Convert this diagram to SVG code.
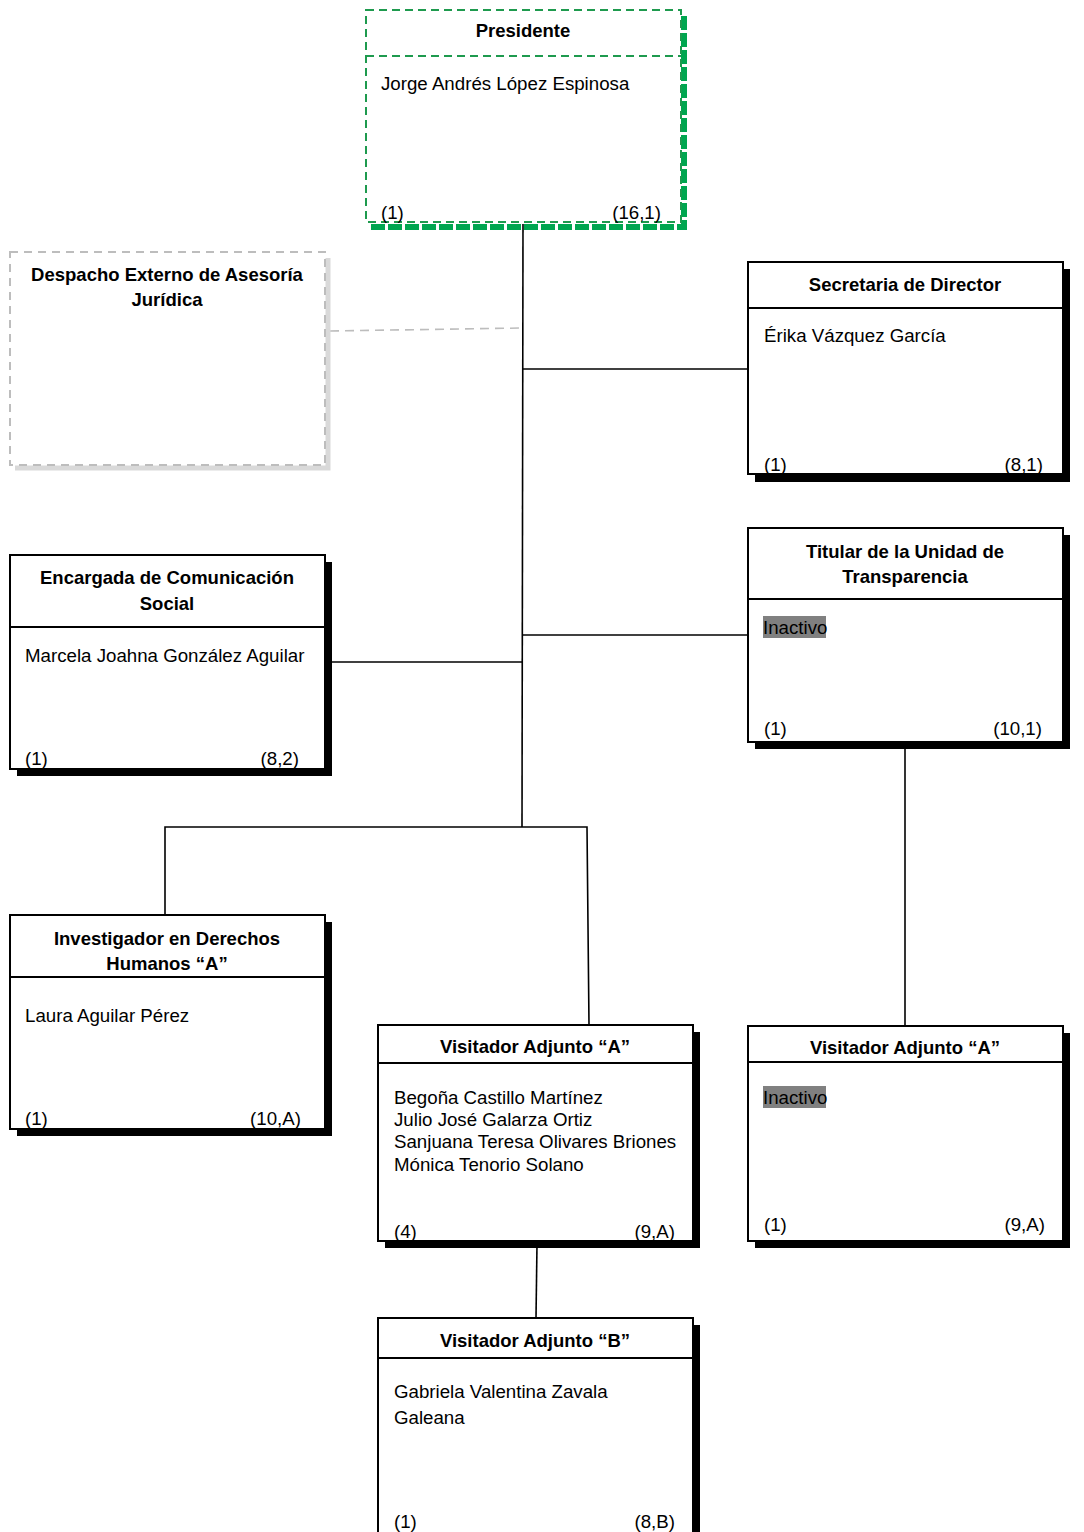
<svg xmlns="http://www.w3.org/2000/svg" width="1084" height="1532" viewBox="0 0 1084 1532">
<style>
  .t{font-family:"Liberation Sans",Arial,sans-serif;font-size:18.5px;font-weight:bold;fill:#000;text-anchor:middle}
  .b{font-family:"Liberation Sans",Arial,sans-serif;font-size:18.7px;fill:#000}
  .r{text-anchor:end}
  .box{fill:#fff;stroke:#000;stroke-width:2}
  .sh{fill:#000}
  .div{stroke:#000;stroke-width:2}
  .ln{stroke:#000;stroke-width:1.6;fill:none}
  .hl{fill:#808080}
</style>
<rect width="1084" height="1532" fill="#fff"/>
<g id="connectors">
  <line class="ln" x1="523" y1="224" x2="522" y2="827"/>
  <line class="ln" x1="522" y1="369" x2="750" y2="369"/>
  <line class="ln" x1="522" y1="635" x2="750" y2="635"/>
  <line class="ln" x1="330" y1="662" x2="522" y2="662"/>
  <line x1="330" y1="331" x2="522" y2="328" stroke="#bdbdbd" stroke-width="1.6" stroke-dasharray="9,6"/>
  <polyline class="ln" points="165,915 165,827 587,827 589,1025"/>
  <line class="ln" x1="905" y1="745" x2="905" y2="1026"/>
  <line class="ln" x1="537" y1="1244" x2="536" y2="1318"/>
</g>
<g id="presidente">
  <path d="M684 16 V227 H371" fill="none" stroke="#00a650" stroke-width="6" stroke-dasharray="14,3"/>
  <rect x="366" y="10" width="315" height="212" fill="#fff" stroke="#1e9a4e" stroke-width="2" stroke-dasharray="8,5"/>
  <line x1="366" y1="56" x2="681" y2="56" stroke="#1e9a4e" stroke-width="2" stroke-dasharray="8,5"/>
  <text class="t" x="523" y="37">Presidente</text>
  <text class="b" x="381" y="90">Jorge Andrés López Espinosa</text>
  <text class="b" x="381" y="219">(1)</text>
  <text class="b r" x="661" y="219">(16,1)</text>
</g>
<g id="despacho">
  <path d="M328 258 V468 H15" fill="none" stroke="#d9d9d9" stroke-width="5"/>
  <rect x="10" y="252" width="315" height="213" fill="#fff" stroke="#bdbdbd" stroke-width="2" stroke-dasharray="8,6"/>
  <text class="t" x="167" y="281">Despacho Externo de Asesoría</text>
  <text class="t" x="167" y="306">Jurídica</text>
</g>
<g id="secretaria">
  <rect class="sh" x="755" y="269" width="315" height="213"/>
  <rect class="box" x="748" y="262" width="315" height="212"/>
  <line class="div" x1="748" y1="308" x2="1063" y2="308"/>
  <text class="t" x="905" y="291">Secretaria de Director</text>
  <text class="b" x="764" y="342">Érika Vázquez García</text>
  <text class="b" x="764" y="471">(1)</text>
  <text class="b r" x="1043" y="471">(8,1)</text>
</g>
<g id="titular">
  <rect class="sh" x="755" y="535" width="315" height="214"/>
  <rect class="box" x="748" y="528" width="315" height="214"/>
  <line class="div" x1="748" y1="599" x2="1063" y2="599"/>
  <text class="t" x="905" y="558">Titular de la Unidad de</text>
  <text class="t" x="905" y="583">Transparencia</text>
  <rect class="hl" x="763" y="616" width="63" height="22"/>
  <text class="b" x="763" y="634">Inactivo</text>
  <text class="b" x="764" y="735">(1)</text>
  <text class="b r" x="1042" y="735">(10,1)</text>
</g>
<g id="encargada">
  <rect class="sh" x="17" y="562" width="315" height="214"/>
  <rect class="box" x="10" y="555" width="315" height="214"/>
  <line class="div" x1="10" y1="627" x2="325" y2="627"/>
  <text class="t" x="167" y="584">Encargada de Comunicación</text>
  <text class="t" x="167" y="610">Social</text>
  <text class="b" x="25" y="662">Marcela Joahna González Aguilar</text>
  <text class="b" x="25" y="765">(1)</text>
  <text class="b r" x="299" y="765">(8,2)</text>
</g>
<g id="investigador">
  <rect class="sh" x="17" y="922" width="315" height="214"/>
  <rect class="box" x="10" y="915" width="315" height="214"/>
  <line class="div" x1="10" y1="977" x2="325" y2="977"/>
  <text class="t" x="167" y="945">Investigador en Derechos</text>
  <text class="t" x="167" y="970">Humanos “A”</text>
  <text class="b" x="25" y="1022">Laura Aguilar Pérez</text>
  <text class="b" x="25" y="1125">(1)</text>
  <text class="b r" x="301" y="1125">(10,A)</text>
</g>
<g id="visitadorA1">
  <rect class="sh" x="385" y="1032" width="315" height="216"/>
  <rect class="box" x="378" y="1025" width="315" height="216"/>
  <line class="div" x1="378" y1="1063" x2="693" y2="1063"/>
  <text class="t" x="535" y="1053">Visitador Adjunto “A”</text>
  <text class="b" x="394" y="1104">Begoña Castillo Martínez</text>
  <text class="b" x="394" y="1126">Julio José Galarza Ortiz</text>
  <text class="b" x="394" y="1148">Sanjuana Teresa Olivares Briones</text>
  <text class="b" x="394" y="1171">Mónica Tenorio Solano</text>
  <text class="b" x="394" y="1238">(4)</text>
  <text class="b r" x="675" y="1238">(9,A)</text>
</g>
<g id="visitadorA2">
  <rect class="sh" x="755" y="1033" width="315" height="215"/>
  <rect class="box" x="748" y="1026" width="315" height="215"/>
  <line class="div" x1="748" y1="1062" x2="1063" y2="1062"/>
  <text class="t" x="905" y="1054">Visitador Adjunto “A”</text>
  <rect class="hl" x="763" y="1086" width="63" height="22"/>
  <text class="b" x="763" y="1104">Inactivo</text>
  <text class="b" x="764" y="1231">(1)</text>
  <text class="b r" x="1045" y="1231">(9,A)</text>
</g>
<g id="visitadorB">
  <rect class="sh" x="385" y="1325" width="315" height="220"/>
  <rect class="box" x="378" y="1318" width="315" height="220"/>
  <line class="div" x1="378" y1="1358" x2="693" y2="1358"/>
  <text class="t" x="535" y="1347">Visitador Adjunto “B”</text>
  <text class="b" x="394" y="1398">Gabriela Valentina Zavala</text>
  <text class="b" x="394" y="1424">Galeana</text>
  <text class="b" x="394" y="1528">(1)</text>
  <text class="b r" x="675" y="1528">(8,B)</text>
</g>
</svg>
